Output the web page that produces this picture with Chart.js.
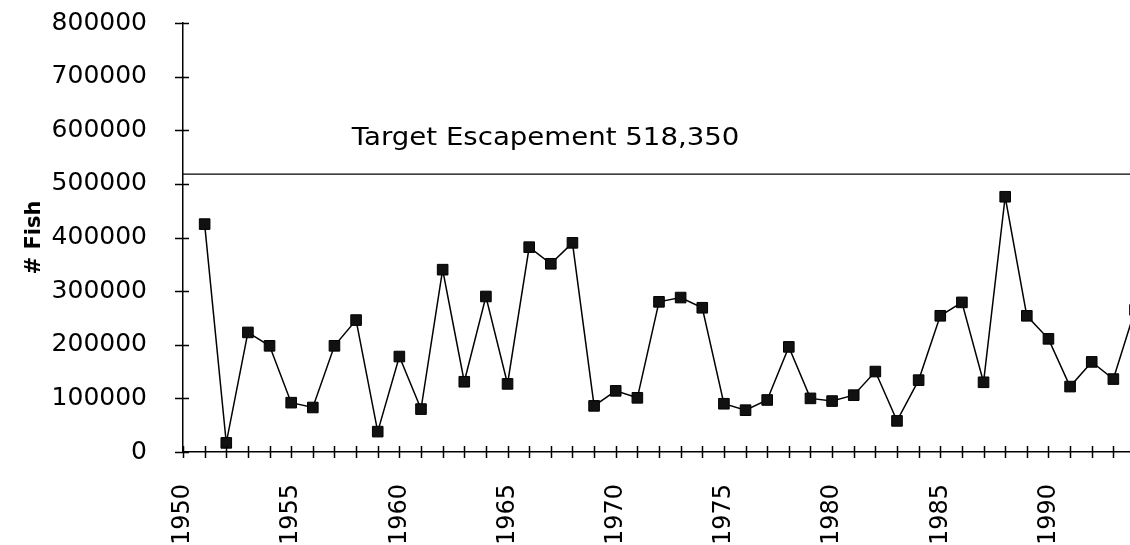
<!DOCTYPE html>
<html>
<head>
<meta charset="utf-8">
<script src="https://cdn.jsdelivr.net/npm/chart.js@4"></script>
<style>
  html, body { margin: 0; padding: 0; background: #fff; overflow: hidden; }
  #wrap { width: 1150px; height: 545px; }
</style>
</head>
<body>
<div id="wrap"><canvas id="escapement" width="1150" height="545"></canvas></div>
<script>
// escapement counts by year
const years = [
  1951, 1952, 1953, 1954, 1955, 1956, 1957, 1958, 1959, 1960,
  1961, 1962, 1963, 1964, 1965, 1966, 1967, 1968, 1969, 1970,
  1971, 1972, 1973, 1974, 1975, 1976, 1977, 1978, 1979, 1980,
  1981, 1982, 1983, 1984, 1985, 1986, 1987, 1988, 1989, 1990,
  1991, 1992, 1993, 1994,
];
const fish = [
  425000, 17000, 223000, 198000, 92000, 83000, 198000, 246000, 38000, 178000,
  80000, 340000, 131000, 290000, 127000, 382000, 351000, 390000, 86000, 114000,
  101000, 280000, 288000, 269000, 90000, 78000, 97000, 196000, 100000, 95000,
  106000, 150000, 58000, 134000, 254000, 279000, 130000, 476000, 254000, 211000,
  122000, 168000, 136000, 265000,
];
const target = 518350;
const targetLabel = "Target Escapement 518,350";
const yearLabels = [1950, 1955, 1960, 1965, 1970, 1975, 1980, 1985, 1990];

const FONT = "'DejaVu Sans', sans-serif";

// drop the label overflow padding so layout.padding alone sets the plot box
function noScalePadding(s) {
  s.paddingTop = 0;
  s.paddingBottom = 0;
  s.paddingLeft = 0;
  s.paddingRight = 0;
}

// tick marks that cross the axis lines, plus the target caption
const crossTicks = {
  id: "crossTicks",
  afterDraw(chart) {
    const { ctx, scales } = chart;
    const x = scales.x, y = scales.y;
    ctx.save();
    ctx.strokeStyle = "#000";
    ctx.lineWidth = 1.5;
    ctx.beginPath();
    y.ticks.forEach(t => {
      const py = Math.round(y.getPixelForValue(t.value)) + 0.5;
      ctx.moveTo(x.left - 8, py);
      ctx.lineTo(x.left + 6, py);
    });
    x.ticks.forEach(t => {
      const px = Math.round(x.getPixelForValue(t.value)) + 0.5;
      ctx.moveTo(px, y.bottom - 6);
      ctx.lineTo(px, y.bottom + 6);
    });
    ctx.stroke();

    // caption set a little wide, like the rest of the lettering
    ctx.fillStyle = "#000";
    ctx.font = "24px " + FONT;
    ctx.textBaseline = "alphabetic";
    ctx.translate(x.getPixelForValue(1957.8), y.getPixelForValue(target) - 29);
    ctx.scale(1.15, 1);
    ctx.fillText(targetLabel, 0, 0);
    ctx.restore();
  },
};

const ctx = document.getElementById("escapement").getContext("2d");
new Chart(ctx, {
  type: "line",
  data: {
    datasets: [
      {
        label: "Escapement",
        data: years.map((yr, i) => ({ x: yr, y: fish[i] })),
        borderColor: "#000",
        borderWidth: 1.5,
        backgroundColor: "#000",
        pointStyle: "rect",
        pointRadius: 7.5,
        pointBorderWidth: 1,
        pointBorderColor: "#000",
        pointBackgroundColor: "#111",
        tension: 0,
      },
      {
        label: "Target",
        data: [{ x: 1950, y: target }, { x: 1994, y: target }],
        borderColor: "#000",
        borderWidth: 1.3,
        pointRadius: 0,
      },
    ],
  },
  options: {
    responsive: false,
    animation: false,
    layout: { padding: { top: 23, right: 15, bottom: 0, left: 0 } },
    plugins: {
      legend: { display: false },
      tooltip: { enabled: false },
    },
    scales: {
      x: {
        type: "linear",
        min: 1950,
        max: 1994,
        afterFit: s => { s.height = 93; noScalePadding(s); },
        grid: { display: false, drawTicks: false },
        border: { display: true, color: "#000", width: 1.5 },
        ticks: {
          stepSize: 1,
          autoSkip: false,
          minRotation: 90,
          maxRotation: 90,
          padding: 32,
          color: "#000",
          font: { family: FONT, size: 24 },
          callback: v => (yearLabels.includes(v) ? String(v) : ""),
        },
      },
      y: {
        min: 0,
        max: 800000,
        afterFit: s => { s.width = 183; noScalePadding(s); },
        grid: { display: false, drawTicks: false },
        border: { display: true, color: "#000", width: 1.5 },
        title: {
          display: true,
          text: "# Fish",
          color: "#000",
          padding: { top: 22, bottom: 0 },
          font: { family: FONT, size: 21, weight: "bold" },
        },
        ticks: {
          stepSize: 100000,
          padding: 36,
          color: "#000",
          font: { family: FONT, size: 25 },
          callback: v => String(v),
        },
      },
    },
  },
  plugins: [crossTicks],
});
</script>
</body>
</html>
